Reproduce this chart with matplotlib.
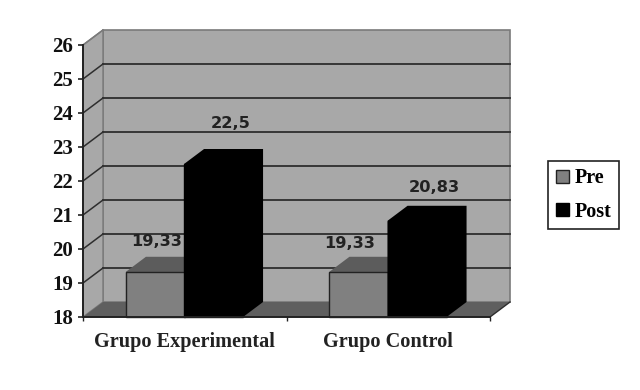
# -*- coding: utf-8 -*-
import numpy as np
import matplotlib; matplotlib.use("Agg")
import matplotlib.pyplot as plt
from matplotlib.patches import Polygon, Patch

grupos = ["Grupo Experimental", "Grupo Control"]
pre = [19.33, 19.33]
post = [22.5, 20.83]
etiq_pre = ["19,33", "19,33"]
etiq_post = ["22,5", "20,83"]
yticks = [18, 19, 20, 21, 22, 23, 24, 25, 26]

W, H = 640, 390
WALL = "#a8a8a8"; FLOOR = "#5f5f5f"; PRE = "#808080"; PRETOP = "#5c5c5c"; GRID = "#2e2e2e"; EDGE = "#7a7a7a"
SERIF = "Liberation Serif"; SANS = "DejaVu Sans"

fig = plt.figure(figsize=(W/100, H/100), dpi=100)
ax = fig.add_axes([83/W, 1-317/H, (490-83)/W, (317-45)/H])
ax.set_xlim(0, 2); ax.set_ylim(18, 26)
ax.patch.set_visible(False)

# profundidad en unidades de datos (20 px, 15 px)
dx = 20/203.5; dy = 15/34
bw = 59/203.5      # ancho de barra
x0 = 0.211         # inicio de cada grupo dentro de la categoria

def poly(pts, fc, ec="none", lw=0.0, z=1):
    ax.add_patch(Polygon(pts, closed=True, facecolor=fc, edgecolor=ec, lw=lw, zorder=z, clip_on=False))

def barra(x, v, fc, top, ec, z):
    poly([(x, 18), (x+bw, 18), (x+bw+dx, 18+dy), (x+bw+dx, v+dy), (x+dx, v+dy), (x, v)], top, z=z)
    poly([(x, 18), (x+bw, 18), (x+bw, v), (x, v)], fc, ec, 1.0, z+0.1)

# paredes y suelo
poly([(dx, 18+dy), (2+dx, 18+dy), (2+dx, 26+dy), (dx, 26+dy)], WALL, EDGE, 1.2)
poly([(0, 18), (dx, 18+dy), (dx, 26+dy), (0, 26)], WALL, EDGE, 1.0)
poly([(0, 18), (2, 18), (2+dx, 18+dy), (dx, 18+dy)], FLOOR, z=1.5)

for v in yticks[1:-1]:
    ax.plot([dx, 2+dx], [v+dy, v+dy], color=GRID, lw=1.3, zorder=1.2, clip_on=False)
for v in yticks[1:]:
    ax.plot([0, dx], [v, v+dy], color=GRID if v < 26 else EDGE, lw=1.1, zorder=1.2, clip_on=False)
ax.plot([2, 2+dx], [18, 18+dy], color=GRID, lw=1.0, zorder=1.6, clip_on=False)

for i in range(len(grupos)):
    x = i + x0
    barra(x, pre[i], PRE, PRETOP, "#222222", 2)
    barra(x+bw*0.985, post[i], "black", "black", "black", 3)

# etiquetas de datos (desplazadas en px)
off_pre = [(1, 30), (-9, 28)]
off_post = [(16, 40), (16, 33)]
for i in range(len(grupos)):
    x = i + x0
    ax.annotate(etiq_pre[i], (x+bw/2, pre[i]), xytext=off_pre[i], textcoords="offset pixels", ha="center", va="center",
                fontsize=11.7, fontweight="bold", family=SANS, color="#222222", zorder=2.5, annotation_clip=False)
    ax.annotate(etiq_post[i], (x+bw*1.5, post[i]), xytext=off_post[i], textcoords="offset pixels", ha="center", va="center",
                fontsize=11.7, fontweight="bold", family=SANS, color="#222222", zorder=4, annotation_clip=False)

# ejes
for s in ["top", "right"]:
    ax.spines[s].set_visible(False)
for s in ["left", "bottom"]:
    ax.spines[s].set_color("#222222"); ax.spines[s].set_linewidth(1.4); ax.spines[s].set_zorder(5)
ax.set_yticks(yticks)
ax.set_yticklabels([str(v) for v in yticks], fontsize=15, fontweight="bold", family=SERIF, color="#111111")
ax.tick_params(axis="y", length=3.5, width=1.2, color="#222222", pad=3.5)
ax.set_xticks(np.arange(len(grupos)+1))
ax.set_xticklabels([""]*(len(grupos)+1))
ax.tick_params(axis="x", which="major", length=3, width=1.0, color="#222222")
ax.set_xticks(np.arange(len(grupos))+0.5, minor=True)
ax.set_xticklabels(grupos, minor=True, fontsize=14.6, fontweight="bold", family=SERIF, color="#222222")
ax.tick_params(axis="x", which="minor", length=0, pad=11)

leg = fig.legend(handles=[Patch(facecolor=PRE, edgecolor="#222222", label="Pre"),
                          Patch(facecolor="black", edgecolor="black", label="Post")],
                 loc="center left", bbox_to_anchor=(548/W, 1-195/H), fancybox=False, framealpha=1,
                 edgecolor="#222222", borderaxespad=0, handlelength=0.65, handleheight=0.65, handletextpad=0.3,
                 labelspacing=0.65, borderpad=0.38, prop={"family": SERIF, "weight": "bold", "size": 14.5})
leg.get_frame().set_linewidth(1.2)

fig.savefig("out.png", dpi=100)
